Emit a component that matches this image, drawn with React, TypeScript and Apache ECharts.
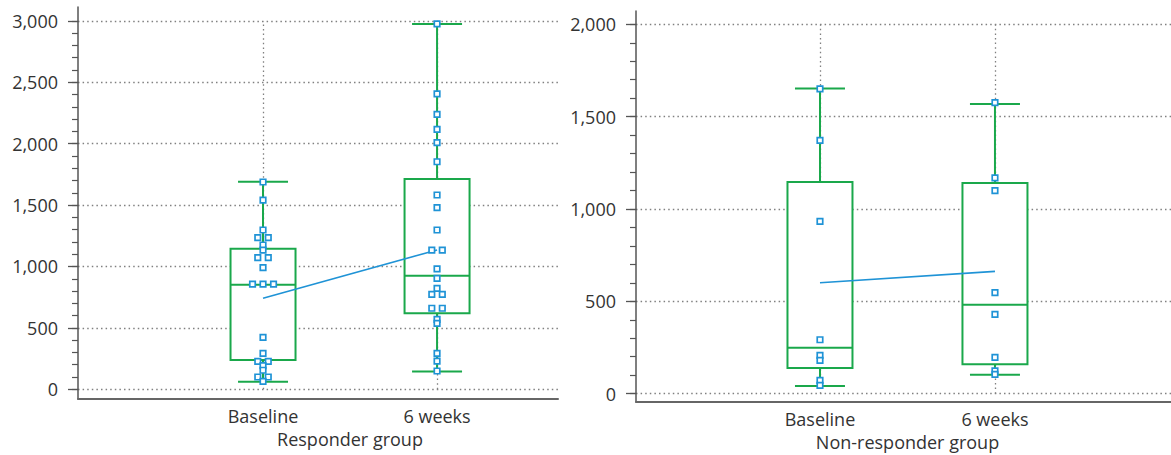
import React, { useEffect, useRef } from "react";
import * as echarts from "echarts";

// ---- data ----
const categories = ["Baseline", "6 weeks"];
const responderTicks = [0, 500, 1000, 1500, 2000, 2500, 3000];
const nonResponderTicks = [0, 500, 1000, 1500, 2000];

const responderBaseline = [1688, 1541, 1297, 1235, 1235, 1175, 1134, 1072, 1072, 990, 857, 857, 857, 423, 293, 228, 228, 192, 155, 100, 100, 65];
const responderWeek6 = [2975, 2405, 2239, 2117, 2008, 1853, 1582, 1479, 1297, 1134, 1134, 980, 904, 822, 773, 773, 660, 660, 570, 537, 293, 230, 149];
const nonResponderBaseline = [1650, 1372, 933, 292, 207, 180, 72, 45];
const nonResponderWeek6 = [1576, 1168, 1099, 547, 429, 197, 123, 105];

// [low whisker, Q1, median, Q3, high whisker]
const responderBoxBaseline = [62, 239, 852, 1145, 1690];
const responderBoxWeek6 = [145, 619, 925, 1712, 2975];
const nonResponderBoxBaseline = [41, 139, 249, 1146, 1652];
const nonResponderBoxWeek6 = [103, 159, 482, 1141, 1568];

const responderMeans = [741, 1135];
const nonResponderMeans = [601, 662];

const groupTitles = ["Responder group", "Non-responder group"];

// ---- styling ----
const GREEN = "#1aa84b";
const BLUE = "#1f93d6";
const TEXT = "#333333";
const AXIS = "#555555";
const FONT = "'Open Sans', sans-serif";
const dotted = { color: "#808080", width: 1.3, type: [1.5, 3.1] as number[] };

function buildPoints(values: number[], x: number) {
  const counts: Record<number, number> = {};
  values.forEach((v) => (counts[v] = (counts[v] || 0) + 1));
  const seen: Record<number, number> = {};
  return values.map((v) => {
    const n = counts[v];
    const i = seen[v] || 0;
    seen[v] = i + 1;
    const dx = (i - (n - 1) / 2) * 10.5;
    return { value: [x, v], symbolOffset: [dx, 0] };
  });
}

function renderBox(params: any, api: any) {
  const x = api.value(0);
  const low = api.coord([x, api.value(1)]);
  const q1 = api.coord([x, api.value(2)]);
  const med = api.coord([x, api.value(3)]);
  const q3 = api.coord([x, api.value(4)]);
  const high = api.coord([x, api.value(5)]);
  const hw = 32.5;
  const cw = 25;
  const ls = { stroke: GREEN, lineWidth: 2, fill: "none" };
  return {
    type: "group",
    children: [
      { type: "line", shape: { x1: high[0], y1: high[1], x2: q3[0], y2: q3[1] }, style: ls },
      { type: "line", shape: { x1: low[0], y1: low[1], x2: q1[0], y2: q1[1] }, style: ls },
      { type: "line", shape: { x1: high[0] - cw, y1: high[1], x2: high[0] + cw, y2: high[1] }, style: ls },
      { type: "line", shape: { x1: low[0] - cw, y1: low[1], x2: low[0] + cw, y2: low[1] }, style: ls },
      {
        type: "rect",
        shape: { x: q3[0] - hw, y: q3[1], width: hw * 2, height: q1[1] - q3[1] },
        style: { stroke: GREEN, lineWidth: 2, fill: "#ffffff" },
      },
      { type: "line", shape: { x1: med[0] - hw, y1: med[1], x2: med[0] + hw, y2: med[1] }, style: ls },
    ],
  };
}

function minorTicks(max: number) {
  const out: number[] = [];
  for (let v = 0; v <= max; v += 100) out.push(v);
  return out;
}

function makeYAxes(gridIndex: number, min: number, max: number, ticks: number[]) {
  return [
    {
      type: "value",
      gridIndex,
      min,
      max,
      position: "left",
      axisLine: { show: true, onZero: false, lineStyle: { color: AXIS, width: 1.5 } },
      axisTick: { show: true, customValues: ticks, length: 10, lineStyle: { color: AXIS, width: 1.3 } },
      axisLabel: {
        customValues: ticks,
        margin: 20,
        color: TEXT,
        fontFamily: FONT,
        fontSize: 18,
        formatter: (v: number) => v.toLocaleString("en-US"),
      },
      splitLine: { show: true, lineStyle: dotted },
    },
    {
      type: "value",
      gridIndex,
      min,
      max,
      position: "left",
      offset: 0,
      axisLine: { show: false, onZero: false },
      axisTick: { show: true, customValues: minorTicks(ticks[ticks.length - 1]), length: 6, lineStyle: { color: AXIS, width: 1.2 } },
      axisLabel: { show: false },
      splitLine: { show: false },
    },
  ];
}

function makeXAxis(gridIndex: number, min: number, max: number, title: string, namePad: number) {
  return {
    type: "value",
    gridIndex,
    min,
    max,
    position: "bottom",
    axisLine: { show: true, onZero: false, lineStyle: { color: "#666", width: 2 } },
    axisTick: { show: false, customValues: [1, 2] },
    axisLabel: {
      customValues: [1, 2],
      hideOverlap: false,
      margin: 8,
      color: TEXT,
      fontFamily: FONT,
      fontSize: 18,
      formatter: (v: number) => (Math.abs(v - 1) < 0.01 ? categories[0] : categories[1]),
    },
    name: title,
    nameLocation: "middle",
    nameGap: 30,
    nameTextStyle: {
      color: TEXT,
      fontFamily: FONT,
      fontSize: 18,
      padding: [0, 0, 0, namePad],
    },
    splitLine: { show: false },
  };
}

function groupSeries(
  gridNo: number,
  boxes: number[][],
  means: number[],
  base: number[],
  week6: number[],
  topTick: number
) {
  const xAxisIndex = gridNo;
  const yAxisIndex = gridNo * 2;
  return [
    {
      type: "line",
      xAxisIndex,
      yAxisIndex,
      data: [],
      silent: true,
      z: 1,
      markLine: {
        z: 1,
        silent: true,
        symbol: "none",
        label: { show: false },
        lineStyle: { ...dotted },
        data: [1, 2].map((x) => [{ coord: [x, 0] }, { coord: [x, topTick] }]),
      },
    },
    {
      type: "custom",
      xAxisIndex,
      yAxisIndex,
      z: 2,
      renderItem: renderBox,
      encode: { x: 0, y: [1, 2, 3, 4, 5] },
      data: boxes.map((b, i) => [i + 1, ...b]),
    },
    {
      type: "line",
      xAxisIndex,
      yAxisIndex,
      z: 3,
      symbol: "none",
      lineStyle: { color: BLUE, width: 1.6 },
      data: means.map((m, i) => [i + 1, m]),
    },
    {
      type: "scatter",
      xAxisIndex,
      yAxisIndex,
      z: 4,
      symbol: "rect",
      symbolSize: 5.5,
      itemStyle: { color: "#ffffff", borderColor: BLUE, borderWidth: 1.7, opacity: 1 },
      data: [...buildPoints(base, 1), ...buildPoints(week6, 2)],
    },
  ];
}

export default function App() {
  const ref = useRef<HTMLDivElement>(null);
  useEffect(() => {
    if (!ref.current) return;
    const chart = echarts.init(ref.current, undefined, { renderer: "svg" });
    const option: any = {
      animation: false,
      backgroundColor: "#ffffff",
      grid: [
        { left: 78, top: 7, width: 480, height: 392, outerBoundsMode: "none", containLabel: false },
        { left: 636, top: 11, width: 535, height: 391, outerBoundsMode: "none", containLabel: false },
      ],
      xAxis: [
        makeXAxis(0, -0.0632, 2.695, groupTitles[0], 64),
        makeXAxis(1, -0.0514, 3.006, groupTitles[1], 8),
      ],
      yAxis: [
        ...makeYAxes(0, -79, 3113, responderTicks),
        ...makeYAxes(1, -45, 2072, nonResponderTicks),
      ],
      series: [
        ...groupSeries(0, [responderBoxBaseline, responderBoxWeek6], responderMeans, responderBaseline, responderWeek6, 3000),
        ...groupSeries(1, [nonResponderBoxBaseline, nonResponderBoxWeek6], nonResponderMeans, nonResponderBaseline, nonResponderWeek6, 2000),
      ],
    };
    chart.setOption(option);
    return () => chart.dispose();
  }, []);
  return (
    <div
      ref={ref}
      style={{ position: "fixed", left: 0, top: 0, width: 1171, height: 455, background: "#fff" }}
    />
  );
}
